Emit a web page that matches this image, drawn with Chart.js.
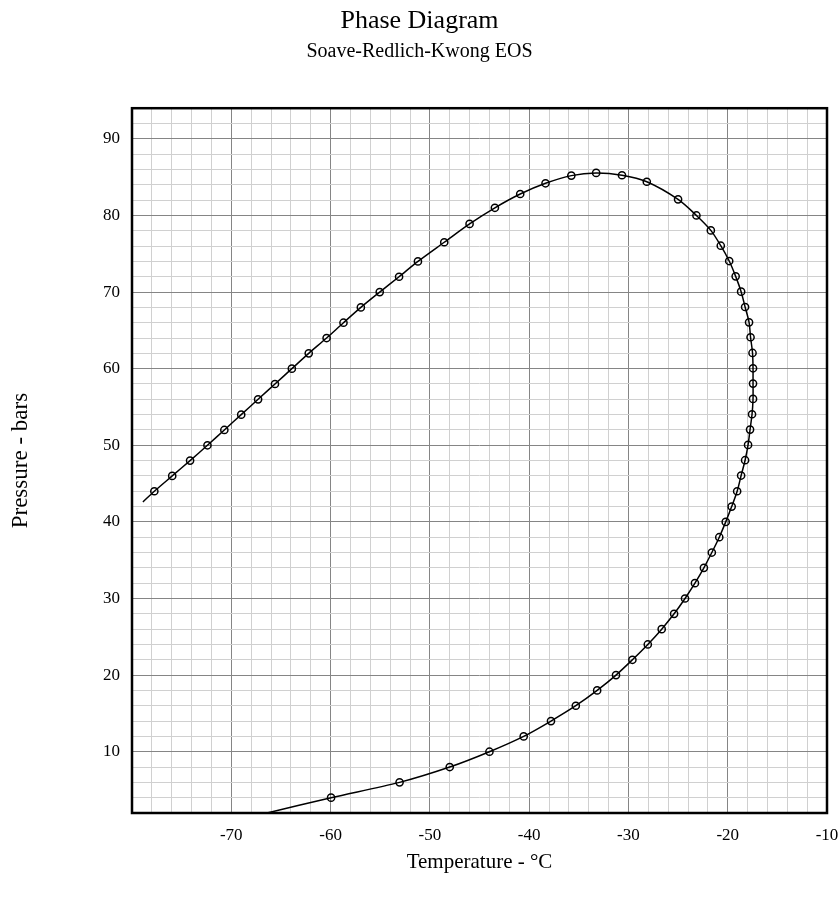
<!DOCTYPE html>
<html lang="en">
<head>
    <meta charset="UTF-8">
    <title>Phase Diagram</title>
    <script src="https://cdn.jsdelivr.net/npm/chart.js@4.4.1/dist/chart.umd.min.js"></script>
</head>
<style>
    body {
        margin: 0;
        background: white;
    }
</style>
<body>
    <canvas id="phaseChart" width="839" height="902"></canvas>

    <script>
        // read off the envelope, first and last entries are just the line ends (no marker)
        const temperatures = [
            -78.9, -77.75, -75.95, -74.15, -72.4, -70.7, -69.0, -67.3, -65.6, -63.9,
            -62.2, -60.4, -58.7, -56.95, -55.05, -53.1, -51.2, -48.55, -46.0, -43.45,
            -40.9, -38.35, -35.75, -33.25, -30.65, -28.15, -25.0, -23.15, -21.7, -20.7,
            -19.85, -19.2, -18.65, -18.25, -17.85, -17.7, -17.5, -17.45, -17.45, -17.45,
            -17.55, -17.75, -17.95, -18.25, -18.65, -19.05, -19.6, -20.2, -20.85, -21.6,
            -22.4, -23.3, -24.3, -25.4, -26.65, -28.05, -29.6, -31.25, -33.15, -35.3,
            -37.8, -40.55, -44.0, -48.0, -53.05, -59.95, -66.4
        ]
        const pressures = [
            42.6, 44, 46, 48, 50, 52, 54, 56, 58, 60,
            62, 64, 66, 68, 70, 72, 74, 76.5, 78.9, 81.0,
            82.8, 84.2, 85.2, 85.55, 85.25, 84.4, 82.1, 80.0, 78.05, 76.05,
            74.05, 72.05, 70.05, 68.05, 66.05, 64.1, 62.05, 60.05, 58.05, 56.05,
            54.05, 52.05, 50.05, 48.05, 46.05, 44, 42, 40, 38, 36,
            34, 32, 30, 28, 26, 24, 22, 20, 18, 16,
            14, 12, 10, 8, 6, 4, 2.0
        ]
        const xTickLabels = [-70, -60, -50, -40, -30, -20, -10]
        const yTickLabels = [10, 20, 30, 40, 50, 60, 70, 80, 90]

        const serif = '"Liberation Serif", "Times New Roman", serif'

        const points = temperatures.map((t, i) => ({ x: t, y: pressures[i] }))

        const gridColor = (ctx) => (ctx.tick && ctx.tick.value % 10 === 0) ? '#858585' : '#d0d0d0'

        // frame round the plot area (top and right sides included)
        const frame = {
            id: 'frame',
            afterDraw: (chart) => {
                const a = chart.chartArea
                const c = chart.ctx
                c.save()
                c.strokeStyle = 'black'
                c.lineWidth = 2.5
                c.strokeRect(a.left, a.top, a.right - a.left, a.bottom - a.top)
                c.restore()
            }
        }

        const chart = new Chart('phaseChart', {
            type: 'scatter',
            data: {
                datasets: [{
                    label: 'envelope',
                    data: points,
                    showLine: true,
                    borderColor: 'black',
                    borderWidth: 1.5,
                    tension: 0.3,
                    pointRadius: (ctx) => (ctx.dataIndex === 0 || ctx.dataIndex === points.length - 1) ? 0 : 3.6,
                    pointBorderColor: 'black',
                    pointBorderWidth: 1.5,
                    pointBackgroundColor: 'rgba(0,0,0,0)',
                    pointHoverRadius: 3.6
                }]
            },
            options: {
                responsive: false,
                animation: false,
                layout: {
                    padding: { left: 0, right: 0, top: 0, bottom: 0 }
                },
                plugins: {
                    legend: { display: false },
                    tooltip: { enabled: false },
                    title: {
                        display: true,
                        text: 'Phase Diagram',
                        color: 'black',
                        font: { family: serif, size: 26, weight: 'normal' },
                        padding: { top: 6, bottom: 0 }
                    },
                    subtitle: {
                        display: true,
                        text: 'Soave-Redlich-Kwong EOS',
                        color: 'black',
                        font: { family: serif, size: 20 },
                        padding: { top: 3, bottom: 44 }
                    }
                },
                scales: {
                    x: {
                        type: 'linear',
                        min: -80,
                        max: -10,
                        afterFit: (scale) => {
                            scale.height = 89
                            scale.paddingLeft = 0
                            scale.paddingRight = 12
                        },
                        border: { display: false },
                        grid: { color: gridColor, lineWidth: 1, drawTicks: false },
                        ticks: {
                            stepSize: 2,
                            autoSkip: false,
                            maxRotation: 0,
                            padding: 12,
                            color: 'black',
                            font: { family: serif, size: 17 },
                            callback: (v) => xTickLabels.includes(v) ? String(v) : ''
                        },
                        title: {
                            display: true,
                            text: 'Temperature - °C',
                            color: 'black',
                            font: { family: serif, size: 21 },
                            padding: { top: 0, bottom: 27 }
                        }
                    },
                    y: {
                        type: 'linear',
                        min: 2,
                        max: 94,
                        afterFit: (scale) => { scale.width = 132 },
                        border: { display: false },
                        grid: { color: gridColor, lineWidth: 1, drawTicks: false },
                        ticks: {
                            stepSize: 2,
                            autoSkip: false,
                            padding: 12,
                            color: 'black',
                            font: { family: serif, size: 17 },
                            callback: (v) => yTickLabels.includes(v) ? String(v) : ''
                        },
                        title: {
                            display: true,
                            text: 'Pressure - bars',
                            color: 'black',
                            font: { family: serif, size: 23 },
                            padding: { top: 7, bottom: 0 }
                        }
                    }
                }
            },
            plugins: [frame]
        })
    </script>
</body>
</html>
